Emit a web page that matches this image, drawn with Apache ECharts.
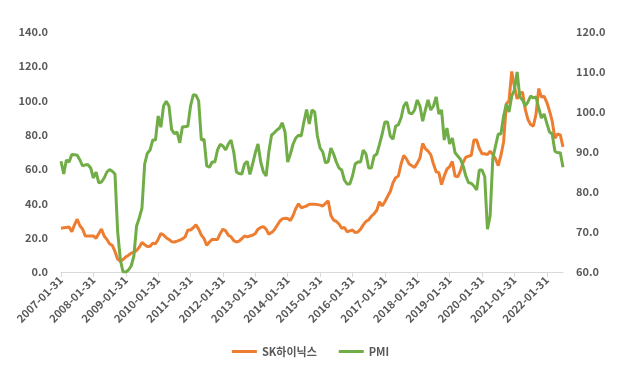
<!DOCTYPE html>
<html>
<head>
<meta charset="utf-8">
<script src="https://cdn.jsdelivr.net/npm/echarts@6/dist/echarts.min.js"></script>
<style>
html, body {margin:0; padding:0; background:#fff;}
#chart {width:621px; height:376px;}
</style>
</head>
<body>
<div id="chart"></div>
<script>
var seriesNames = ['SK하이닉스', 'PMI'];

// 월말 기준, 2007-01 ~ 2022-07
var hynix = [
	25.5, 25.8, 26, 26.2, 23.5, 27.5, 30.8, 27, 25, 21, 21, 21,
	21, 19.7, 22.5, 25, 21, 19, 16.5, 15.5, 12, 7.5, 6.3, 7.3,
	8.8, 9.8, 11, 11.5, 12.5, 14.5, 17.2, 16, 14.8, 15, 16.8, 16.5,
	19, 22.5, 21.6, 20, 19, 17.7, 17.5, 18, 18.6, 19.3, 20.5, 24.5,
	24.5, 25.8, 27.5, 25, 21.5, 19.5, 15.5, 17.5, 19, 19, 19, 22.5,
	25, 24, 21.5, 20.5, 18.3, 17.5, 18, 19.5, 21, 20.5, 21, 21.5,
	22.5, 25, 26, 26.5, 25, 22, 23, 24.5, 27, 29.5, 31, 31.3,
	31.2, 30, 33, 37, 39.8, 37.5, 38, 38.5, 39.5, 39.5, 39.5, 39.3,
	39, 38.5, 40, 41.5, 33, 30.3, 29.5, 28, 25.5, 26, 23.5, 24,
	24.5, 23, 23.3, 25, 27.5, 29.5, 30.5, 32.5, 34, 36, 41, 38.5,
	41, 44, 47, 52, 55, 56, 63, 68, 66, 63, 62, 61,
	63.5, 66.5, 75, 72, 70.5, 68.5, 63, 58.5, 58, 51, 56, 60,
	61.5, 64.5, 56, 55.5, 59, 64, 67, 67.5, 68, 77, 77, 72,
	69, 69, 68.5, 70.5, 68.5, 66, 62, 68, 76, 98, 100, 117,
	108, 101, 104, 105, 95, 89, 86, 85, 92, 107, 102, 102.5,
	99, 94, 88, 78, 80.5, 80, 73
];
var pmi = [
	87.7, 84.5, 88, 87.5, 89.4, 89.3, 89.2, 88, 86.5, 86.8, 86.8, 86,
	83.5, 85, 82.3, 82.5, 83.5, 85, 85.6, 85.2, 84.5, 70, 63, 60,
	60, 60.5, 61.5, 64, 71.5, 73.5, 76, 87, 89.7, 90.5, 93, 93,
	99, 96.2, 101.5, 102.7, 101.5, 95.6, 94.6, 95, 92.3, 96.3, 96.3, 96.5,
	101.5, 104.3, 104.2, 102.8, 93, 93.2, 86.5, 86.2, 87.5, 87.5, 90.5, 91.9,
	91.5, 90.5, 92, 93, 90, 85, 84.6, 84.5, 87, 87.7, 84.4, 87,
	89.8, 92, 87.5, 85, 84, 90, 94.2, 94.8, 95.5, 96, 97.3, 95,
	87.5, 89.5, 92, 93.5, 94.2, 94, 97.5, 100.6, 97, 100.5, 100, 94,
	91, 90, 87.3, 87.6, 91, 89.5, 87.5, 86, 85.5, 83, 82, 82,
	84, 87, 87.5, 87.5, 90.5, 89.5, 86, 86, 89, 89.5, 91.9, 94.5,
	97.5, 97.5, 94, 93.2, 96.5, 96.8, 98.5, 101.5, 102.5, 99.8, 99.5, 100.5,
	103, 101.5, 97.7, 100.5, 103, 100.5, 101.5, 103.8, 99.5, 100.5, 93, 96,
	92, 93.5, 89.8, 89, 88.2, 86.5, 84, 82.3, 82.2, 81.5, 80.5, 85.5,
	85.5, 83.8, 70.7, 74, 88.5, 91.5, 94.5, 94.5, 99, 102, 100, 104,
	105.5, 110, 103.8, 103, 101.5, 102.5, 104, 103.5, 103.8, 101, 98.5, 99.5,
	97.2, 95, 94.5, 90.2, 89.8, 89.8, 86.2
];

// 날짜 카테고리 (월말)
var dates = [];
for (var i = 0; i < hynix.length; i++) {
	var y = 2007 + Math.floor(i / 12), m = i % 12 + 1;
	var d = new Date(y, m, 0).getDate();
	dates.push(y + '-' + (m < 10 ? '0' + m : m) + '-' + d);
}

var leftAxis = {min: 0, max: 140, interval: 20};
var rightAxis = {min: 60, max: 120, interval: 10};

var labelStyle = {color: '#595959', fontSize: 11, fontWeight: 'bold', fontFamily: '"Noto Sans CJK KR", "Noto Sans", sans-serif'};

var myChart = echarts.init(document.getElementById('chart'));
var option = {
	animation: false,
	color: ['#ED7D31', '#70AD47'],
	grid: {left: 61, right: 58, top: 32, bottom: 104, outerBoundsMode: 'none'},
	legend: {
		data: seriesNames,
		left: 'center',
		top: 341,
		icon: 'rect',
		itemWidth: 25,
		itemHeight: 3,
		itemGap: 22,
		textStyle: {color: '#595959', fontSize: 11, fontWeight: 'bold', fontFamily: labelStyle.fontFamily}
	},
	xAxis: {
		type: 'category',
		boundaryGap: false,
		data: dates,
		axisLine: {lineStyle: {color: '#D9D9D9', width: 1}},
		axisTick: {interval: 11, length: 5, lineStyle: {color: '#D9D9D9'}},
		axisLabel: Object.assign({interval: 11, rotate: 45, margin: 6}, labelStyle),
		splitLine: {show: false}
	},
	yAxis: [{
		type: 'value',
		min: leftAxis.min, max: leftAxis.max, interval: leftAxis.interval,
		axisLine: {show: false},
		axisTick: {show: false},
		splitLine: {show: false},
		axisLabel: Object.assign({margin: 13, formatter: function(v){ return v.toFixed(1); }}, labelStyle)
	}, {
		type: 'value',
		min: rightAxis.min, max: rightAxis.max, interval: rightAxis.interval,
		axisLine: {show: false},
		axisTick: {show: false},
		splitLine: {show: false},
		axisLabel: Object.assign({margin: 13, formatter: function(v){ return v.toFixed(1); }}, labelStyle)
	}],
	series: [{
		name: seriesNames[0],
		type: 'line',
		yAxisIndex: 0,
		data: hynix,
		symbol: 'none',
		lineStyle: {width: 3, color: '#ED7D31'}
	}, {
		name: seriesNames[1],
		type: 'line',
		yAxisIndex: 1,
		data: pmi,
		symbol: 'none',
		lineStyle: {width: 3, color: '#70AD47'}
	}]
};
myChart.setOption(option);
</script>
</body>
</html>
